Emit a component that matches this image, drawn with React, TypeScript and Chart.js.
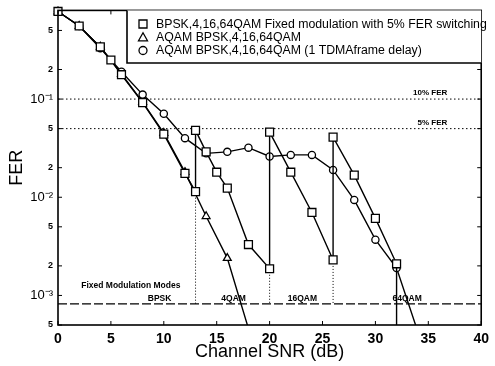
import React, { useEffect, useRef } from "react";
import { Chart, registerables } from "chart.js";

Chart.register(...registerables);

// ---------- data ----------
const SNR_FIXED = [0, 2, 4, 5, 6, 8, 10, 12, 13, 13, 14, 15, 16, 18, 20, 20, 22, 24, 26, 26, 28, 30, 32, 32];
const FER_FIXED = [0.78, 0.555, 0.34, 0.25, 0.177, 0.092, 0.044, 0.0175, 0.0114, 0.048, 0.029, 0.018, 0.0124, 0.0033, 0.00187, 0.046, 0.018, 0.007, 0.0023, 0.041, 0.0168, 0.0061, 0.0021, 0.0001];

const SNR_AQAM = [0, 2, 4, 6, 8, 10, 12, 14, 16, 18];
const FER_AQAM = [0.78, 0.555, 0.34, 0.18, 0.093, 0.045, 0.018, 0.0064, 0.0024, 0.00046];

const SNR_DELAY = [0, 2, 4, 6, 8, 10, 12, 14, 16, 18, 20, 22, 24, 26, 28, 30, 32, 34];
const FER_DELAY = [0.78, 0.555, 0.33, 0.19, 0.111, 0.071, 0.04, 0.028, 0.029, 0.032, 0.026, 0.027, 0.027, 0.019, 0.0094, 0.0037, 0.0019, 0.00043];

const SWITCH_SNR = [13, 20, 26];
const SWITCH_FER = [0.0114, 0.00187, 0.0023];

const FER_TARGETS = [0.1, 0.05];
const FER_TARGET_LABELS = ["10% FER", "5% FER"];
const MODE_LINE_FER = 8.2e-4;
const MODE_TITLE = "Fixed Modulation Modes";
const MODE_NAMES = ["BPSK", "4QAM", "16QAM", "64QAM"];
const MODE_NAME_SNR = [9.6, 16.6, 23.1, 33.0];

const X_TICKS = [0, 5, 10, 15, 20, 25, 30, 35, 40];
const Y_TICKS = [5e-4, 1e-3, 2e-3, 5e-3, 1e-2, 2e-2, 5e-2, 1e-1, 2e-1, 5e-1];

const LEGEND_LABELS = [
  "BPSK,4,16,64QAM Fixed modulation with 5% FER switching",
  "AQAM BPSK,4,16,64QAM",
  "AQAM BPSK,4,16,64QAM (1 TDMAframe delay)",
];
const X_TITLE = "Channel SNR (dB)";
const Y_TITLE = "FER";

// ---------- helpers ----------
const FONT = '"Liberation Sans", Arial, Helvetica, sans-serif';
const Y_MIN = 5e-4;
const Y_MAX = 0.8;
const X_MIN = 0;
const X_MAX = 40;

const pts = (xs: number[], ys: number[]) => xs.map((x, i) => ({ x, y: ys[i] }));
const inRange = (v: any) => typeof v === "number" && v >= Y_MIN && v <= Y_MAX * 1.0001;
const SUP: Record<string, string> = { "-": "⁻", "0": "⁰", "1": "¹", "2": "²", "3": "³", "4": "⁴", "5": "⁵", "6": "⁶", "7": "⁷", "8": "⁸", "9": "⁹" };
const isDecade = (v: number) => {
  const e = Math.round(Math.log10(v));
  return Math.abs(v - Math.pow(10, e)) / v < 1e-6;
};
const fmtY = (v: number) => {
  if (isDecade(v)) {
    const e = String(Math.round(Math.log10(v)));
    return "10" + e.split("").map((c) => SUP[c] || c).join("");
  }
  const m = Math.pow(10, Math.floor(Math.log10(v) + 1e-9));
  return String(Math.round(v / m));
};

const series = (label: string, xs: number[], ys: number[], style: string, radius: number) => ({
  label,
  data: pts(xs, ys),
  borderColor: "#000",
  borderWidth: 1.4,
  backgroundColor: "#fff",
  pointStyle: style,
  pointBorderColor: "#000",
  pointBackgroundColor: "#fff",
  pointBorderWidth: 1.3,
  pointRadius: (c: any) => (inRange(c.raw && c.raw.y) ? radius : 0),
  pointHoverRadius: 0,
  tension: 0,
  clip: { left: 8, top: 8, right: 0, bottom: 0 },
});

const refLine = (data: any[], dash: number[], width = 1) => ({
  label: "",
  data,
  borderColor: "#000",
  borderWidth: width,
  borderDash: dash,
  pointRadius: 0,
  pointHoverRadius: 0,
  tension: 0,
  spanGaps: false,
});

const switchData: any[] = [];
SWITCH_SNR.forEach((x, i) => {
  switchData.push({ x, y: SWITCH_FER[i] }, { x, y: MODE_LINE_FER }, { x, y: null });
});

function drawSymbol(ctx: CanvasRenderingContext2D, style: string, x: number, y: number) {
  ctx.save();
  ctx.fillStyle = "#fff";
  ctx.strokeStyle = "#000";
  ctx.lineWidth = 1.3;
  ctx.beginPath();
  if (style === "rect") {
    ctx.rect(x - 4, y - 4, 8, 8);
  } else if (style === "triangle") {
    ctx.moveTo(x, y - 4.5);
    ctx.lineTo(x + 4.5, y + 3.5);
    ctx.lineTo(x - 4.5, y + 3.5);
    ctx.closePath();
  } else {
    ctx.arc(x, y, 4, 0, Math.PI * 2);
  }
  ctx.fill();
  ctx.stroke();
  ctx.restore();
}

const decorPlugin = {
  id: "decor",
  afterDatasetsDraw(chart: any) {
    const { ctx, chartArea: a, scales } = chart;
    const xs = scales.x;
    const ys = scales.y;
    ctx.save();
    // frame
    ctx.strokeStyle = "#000";
    ctx.lineWidth = 1.6;
    ctx.strokeRect(a.left, a.top, a.right - a.left, a.bottom - a.top);
    // inward ticks
    ctx.lineWidth = 1;
    ctx.beginPath();
    X_TICKS.forEach((v) => {
      const px = xs.getPixelForValue(v);
      ctx.moveTo(px, a.bottom);
      ctx.lineTo(px, a.bottom - 4);
      ctx.moveTo(px, a.top);
      ctx.lineTo(px, a.top + 4);
    });
    Y_TICKS.forEach((v) => {
      const py = ys.getPixelForValue(v);
      ctx.moveTo(a.left, py);
      ctx.lineTo(a.left + 4, py);
      ctx.moveTo(a.right, py);
      ctx.lineTo(a.right - 4, py);
    });
    ctx.stroke();

    // annotation texts
    ctx.fillStyle = "#000";
    ctx.font = `bold 8px ${FONT}`;
    ctx.textAlign = "right";
    ctx.textBaseline = "bottom";
    FER_TARGETS.forEach((v, i) => {
      ctx.fillText(FER_TARGET_LABELS[i], xs.getPixelForValue(36.8), ys.getPixelForValue(v) - 2);
    });
    ctx.textAlign = "left";
    ctx.font = `bold 8.5px ${FONT}`;
    ctx.fillText(MODE_TITLE, xs.getPixelForValue(2.2), ys.getPixelForValue(MODE_LINE_FER) - 14);
    ctx.textAlign = "center";
    ctx.font = `bold 8.5px ${FONT}`;
    MODE_NAMES.forEach((n, i) => {
      ctx.fillText(n, xs.getPixelForValue(MODE_NAME_SNR[i]), ys.getPixelForValue(MODE_LINE_FER) - 1);
    });

    // legend
    const lx = 127;
    const ly = a.top;
    const lr = a.right;
    const lb = 63;
    ctx.fillStyle = "#fff";
    ctx.fillRect(lx, ly, lr - lx, lb - ly);
    ctx.strokeStyle = "#000";
    ctx.lineWidth = 1.6;
    ctx.beginPath();
    ctx.moveTo(lx, ly);
    ctx.lineTo(lx, lb);
    ctx.lineTo(lr, lb);
    ctx.stroke();
    const styles = ["rect", "triangle", "circle"];
    const rows = [24, 37.3, 50.5];
    ctx.fillStyle = "#000";
    ctx.font = `12.3px ${FONT}`;
    ctx.textAlign = "left";
    ctx.textBaseline = "middle";
    LEGEND_LABELS.forEach((t, i) => {
      drawSymbol(ctx, styles[i], 143, rows[i]);
      ctx.fillStyle = "#000";
      ctx.fillText(t, 156, rows[i] + 0.5);
    });
    ctx.restore();
  },
};

export default function App() {
  const ref = useRef<HTMLCanvasElement | null>(null);
  useEffect(() => {
    if (!ref.current) return;
    const chart = new Chart(ref.current, {
      type: "line",
      data: {
        datasets: [
          series(LEGEND_LABELS[0], SNR_FIXED, FER_FIXED, "rect", 5.6),
          series(LEGEND_LABELS[2], SNR_DELAY, FER_DELAY, "circle", 3.6),
          series(LEGEND_LABELS[1], SNR_AQAM, FER_AQAM, "triangle", 4.5),
          refLine(switchData, [1, 2], 1),
          refLine([{ x: X_MIN, y: FER_TARGETS[0] }, { x: X_MAX, y: FER_TARGETS[0] }], [1.5, 2.5], 1),
          refLine([{ x: X_MIN, y: FER_TARGETS[1] }, { x: X_MAX, y: FER_TARGETS[1] }], [1.5, 2.5], 1),
          refLine([{ x: X_MIN, y: MODE_LINE_FER }, { x: X_MAX, y: MODE_LINE_FER }], [9, 3], 1.2),
        ] as any,
      },
      options: {
        animation: false,
        responsive: false,
        maintainAspectRatio: false,
        layout: { padding: { left: 0, right: 8, top: 9, bottom: 0 } },
        plugins: { legend: { display: false }, tooltip: { enabled: false } },
        events: [],
        scales: {
          x: {
            type: "linear",
            min: X_MIN,
            max: X_MAX,
            afterBuildTicks: (s: any) => {
              s.ticks = X_TICKS.map((v) => ({ value: v }));
            },
            afterFit: (s: any) => {
              s.height = 41;
            },
            grid: { display: false, drawTicks: false },
            border: { display: false },
            ticks: { color: "#000", font: { family: FONT, size: 14, weight: "bold" }, padding: 6, maxRotation: 0, autoSkip: false },
            title: { display: true, text: X_TITLE, color: "#000", font: { family: FONT, size: 18 }, padding: { top: 0, bottom: 3 } },
          },
          y: {
            type: "logarithmic",
            min: Y_MIN,
            max: Y_MAX,
            afterBuildTicks: (s: any) => {
              s.ticks = Y_TICKS.map((v) => ({ value: v }));
            },
            afterFit: (s: any) => {
              s.width = 58;
            },
            grid: { display: false, drawTicks: false },
            border: { display: false },
            ticks: {
              color: "#000",
              padding: 5,
              autoSkip: false,
              callback: (v: any) => fmtY(Number(v)),
              font: (c: any) =>
                c.tick && isDecade(c.tick.value)
                  ? { family: FONT, size: 13 }
                  : { family: FONT, size: 9, weight: "bold" },
            },
            title: { display: true, text: Y_TITLE, color: "#000", font: { family: FONT, size: 18 }, padding: { top: 6, bottom: 0 } },
          },
        },
      } as any,
      plugins: [decorPlugin],
    });
    return () => chart.destroy();
  }, []);
  return (
    <div style={{ position: "absolute", left: 0, top: 0, width: 495, height: 366, background: "#fff" }}>
      <canvas ref={ref} width={495} height={366} style={{ width: 495, height: 366, display: "block" }} />
    </div>
  );
}
